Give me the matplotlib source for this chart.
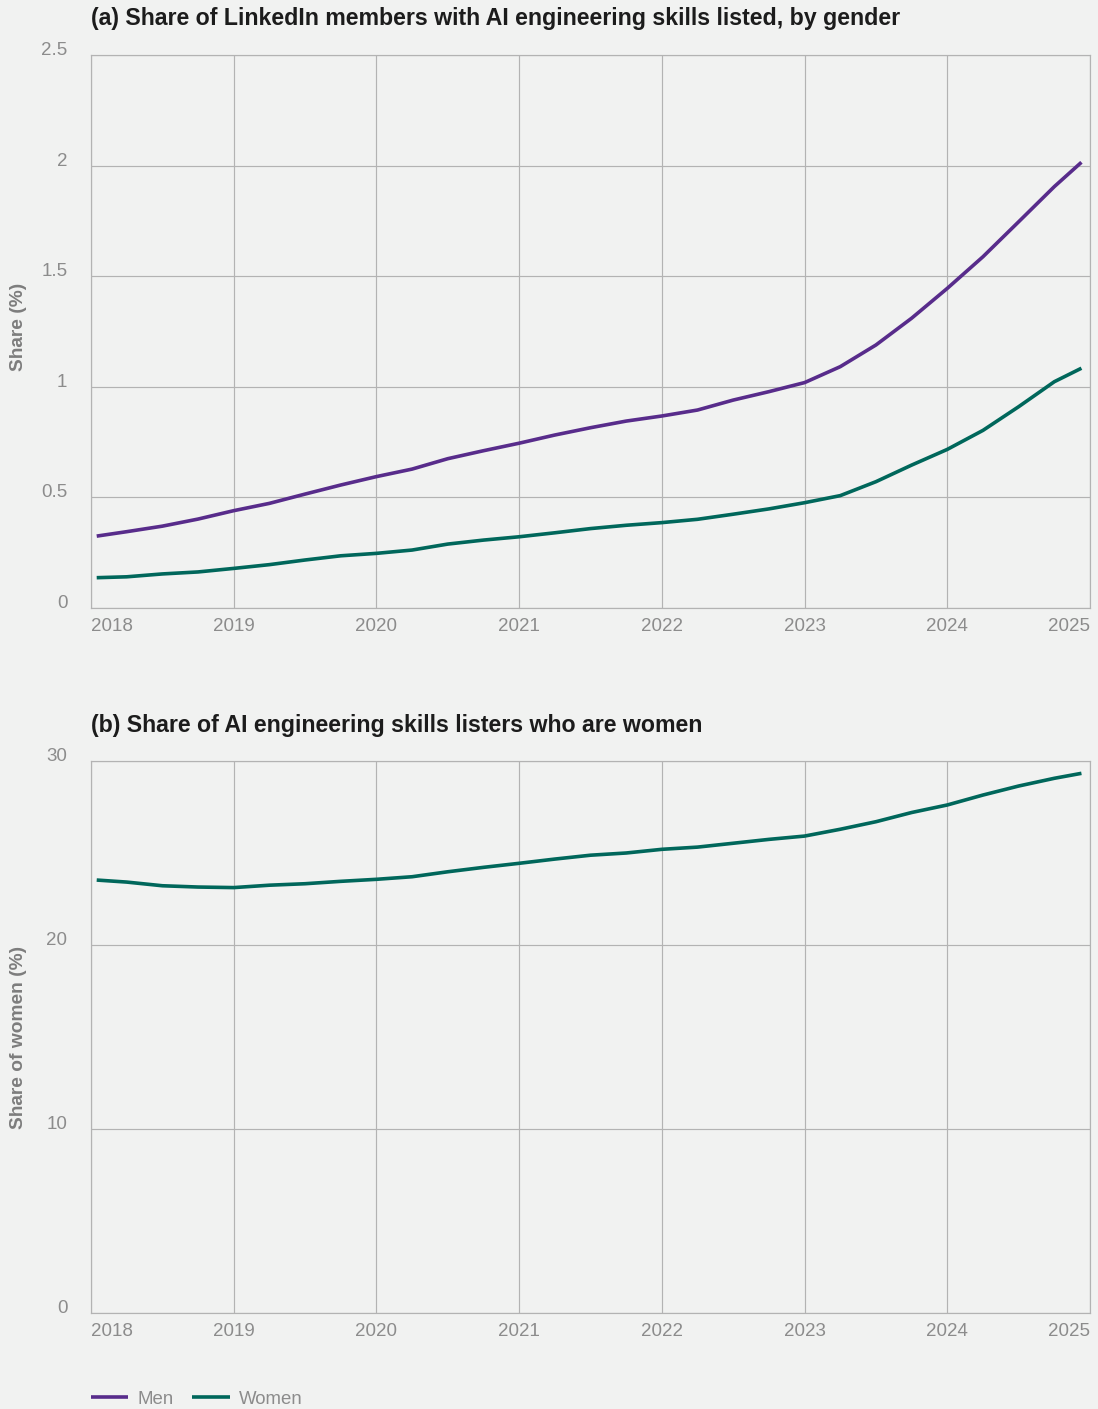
import matplotlib
matplotlib.use("Agg")
import matplotlib.pyplot as plt

plt.rcParams['font.family'] = ['Liberation Sans', 'DejaVu Sans']

# quarterly readings, decimal years (series runs Jan 2018 - Dec 2024)
years = [2018.04, 2018.25, 2018.5, 2018.75, 2019.0, 2019.25, 2019.5, 2019.75,
         2020.0, 2020.25, 2020.5, 2020.75, 2021.0, 2021.25, 2021.5, 2021.75,
         2022.0, 2022.25, 2022.5, 2022.75, 2023.0, 2023.25, 2023.5, 2023.75,
         2024.0, 2024.25, 2024.5, 2024.75, 2024.94]

men_share = [0.325, 0.345, 0.370, 0.402, 0.440, 0.473, 0.515, 0.556,
             0.594, 0.628, 0.675, 0.711, 0.745, 0.782, 0.815, 0.845,
             0.868, 0.895, 0.940, 0.978, 1.019, 1.091, 1.189, 1.310,
             1.445, 1.588, 1.746, 1.905, 2.015]

women_share = [0.137, 0.141, 0.154, 0.163, 0.179, 0.196, 0.217, 0.236,
               0.247, 0.262, 0.289, 0.307, 0.322, 0.340, 0.359, 0.374,
               0.386, 0.401, 0.424, 0.448, 0.476, 0.508, 0.571, 0.646,
               0.717, 0.803, 0.910, 1.023, 1.084]

women_of_listers = [23.53, 23.42, 23.22, 23.15, 23.12, 23.25, 23.33, 23.46,
                    23.57, 23.71, 23.98, 24.22, 24.44, 24.67, 24.88, 25.00,
                    25.20, 25.32, 25.53, 25.74, 25.92, 26.29, 26.70, 27.20,
                    27.61, 28.15, 28.64, 29.06, 29.33]

year_ticks = [2018, 2019, 2020, 2021, 2022, 2023, 2024, 2025]
share_ticks = [0, 0.5, 1, 1.5, 2, 2.5]
women_ticks = [0, 10, 20, 30]

BG = '#f1f2f1'
GRID = '#b3b3b3'
TICK = '#8c8c8c'
MEN = '#582c8b'
WOMEN = '#00675b'

W, H = 1098, 1409
fig = plt.figure(figsize=(W / 100, H / 100), dpi=100, facecolor=BG)


def style_axes(ax, yticks, ymax):
    ax.set_facecolor(BG)
    ax.set_xlim(2018, 2025)
    ax.set_ylim(0, ymax)
    ax.set_xticks(year_ticks, [str(y) for y in year_ticks])
    ax.set_yticks(yticks, [f'{t:g}' for t in yticks])
    ax.grid(True, color=GRID, linewidth=0.85)
    ax.set_axisbelow(True)
    for s in ax.spines.values():
        s.set_color(GRID)
        s.set_linewidth(0.85)
    ax.tick_params(length=0, labelsize=13.5, labelcolor=TICK)
    ax.tick_params(axis='x', pad=7)
    ax.tick_params(axis='y', pad=17)
    for lab in ax.get_yticklabels():
        lab.set_verticalalignment('baseline')
    xl = ax.get_xticklabels()
    xl[0].set_horizontalalignment('left')
    xl[-1].set_horizontalalignment('right')


left = 91 / W
width = 999 / W

# (a) share of members by gender
ax1 = fig.add_axes([left, 1 - 608 / H, width, 553 / H])
style_axes(ax1, share_ticks, 2.5)
ax1.plot(years, men_share, color=MEN, lw=2.6, label='Men', solid_capstyle='butt')
ax1.plot(years, women_share, color=WOMEN, lw=2.6, label='Women', solid_capstyle='butt')

# (b) women among AI engineering skill listers
ax2 = fig.add_axes([left, 1 - 1313 / H, width, 552 / H])
style_axes(ax2, women_ticks, 30)
ax2.plot(years, women_of_listers, color=WOMEN, lw=2.6, solid_capstyle='butt')

fig.text(left, 1 - 25 / H,
         '(a) Share of LinkedIn members with AI engineering skills listed, by gender',
         fontsize=16.7, fontweight='bold', color='#1c1c1c', va='baseline', ha='left')
fig.text(left, 1 - 732 / H,
         '(b) Share of AI engineering skills listers who are women',
         fontsize=16.7, fontweight='bold', color='#1c1c1c', va='baseline', ha='left')

fig.text(18.5 / W, 1 - 327 / H, 'Share (%)', rotation=90, fontsize=13.8,
         fontweight='bold', color='#7d7d7d', ha='center', va='center')
fig.text(18.5 / W, 1 - 1037 / H, 'Share of women (%)', rotation=90, fontsize=13.8,
         fontweight='bold', color='#7d7d7d', ha='center', va='center')

handles, labels = ax1.get_legend_handles_labels()
fig.legend(handles, labels, loc='center left', bbox_to_anchor=(91 / W, 1 - 1399 / H),
           ncol=2, frameon=False, fontsize=13.4, labelcolor=TICK,
           handlelength=2.0, handletextpad=0.5, columnspacing=1.0,
           borderpad=0, borderaxespad=0)

fig.savefig('out.png', dpi=100, facecolor=BG)
